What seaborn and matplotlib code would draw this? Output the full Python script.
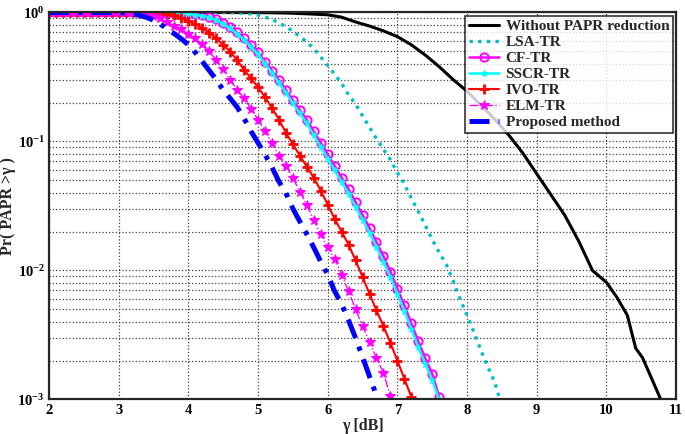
import numpy as np
import pandas as pd
import seaborn as sns
import matplotlib.pyplot as plt
from matplotlib.ticker import FuncFormatter, LogLocator, NullFormatter

# gamma grid used by the curves that carry markers (0.1 dB steps)
gamma = np.round(np.arange(2.0, 7.65, 0.1), 1)

# Without PAPR reduction (no markers, own x points)
wo_x = [2.0, 3.0, 4.0, 5.0, 5.4, 5.7, 6.0, 6.2, 6.4, 6.6, 6.8, 7.0, 7.2, 7.4, 7.6, 7.8, 8.0,
        8.2, 8.4, 8.6, 8.8, 9.0, 9.2, 9.4, 9.6, 9.8, 10.0, 10.15, 10.3, 10.42, 10.52, 10.65, 10.78]
wo_y = [1.0, 1.0, 1.0, 0.998, 0.991, 0.977, 0.96, 0.92, 0.845, 0.785, 0.72, 0.65, 0.562, 0.468,
        0.380, 0.302, 0.245, 0.191, 0.148, 0.112, 0.0813, 0.0562, 0.0389, 0.0269, 0.017, 0.0100,
        0.0081, 0.0062, 0.0045, 0.0025, 0.0021, 0.00145, 0.001]

# LSA-TR (dotted, no markers)
lsa_x = [2.0, 3.0, 4.0, 4.6, 4.7, 4.8, 4.9, 5.0, 5.1, 5.2, 5.3, 5.4, 5.5, 5.6, 5.7, 5.8, 5.9,
         6.0, 6.1, 6.2, 6.3, 6.4, 6.5, 6.6, 6.7, 6.8, 6.9, 7.0, 7.1, 7.2, 7.3, 7.4, 7.5, 7.6,
         7.7, 7.8, 7.9, 8.0, 8.1, 8.2, 8.3, 8.4, 8.47]
lsa_y = [1.0, 1.0, 1.0, 1.0, 0.993, 0.986, 0.975, 0.955, 0.923, 0.881, 0.832, 0.776, 0.716,
         0.653, 0.589, 0.525, 0.452, 0.389, 0.331, 0.282, 0.229, 0.195, 0.158, 0.129, 0.105,
         0.0871, 0.0724, 0.0575, 0.0468, 0.0363, 0.0288, 0.0224, 0.0174, 0.0138, 0.0112,
         0.0083, 0.0060, 0.00447, 0.00331, 0.0024, 0.00178, 0.00135, 0.001]

# CF-TR, 2.0 .. 7.6
cf_y = [1.0, 1.0, 1.0, 1.0, 1.0, 1.0, 1.0, 1.0, 1.0, 1.0, 1.0, 1.0, 1.0, 1.0, 1.0,
        0.998, 0.995, 0.993, 0.989, 0.984,
        0.975, 0.965, 0.955, 0.93, 0.89, 0.835, 0.77, 0.70, 0.631, 0.562,
        0.490, 0.417, 0.355, 0.299, 0.251, 0.209, 0.176, 0.147, 0.120, 0.0977,
        0.0794, 0.0646, 0.0525, 0.0427, 0.0339, 0.0269, 0.0214, 0.0166, 0.0129, 0.0098,
        0.00724, 0.00537, 0.00389, 0.00282, 0.00209, 0.00158, 0.00105]

# SSCR-TR, 2.0 .. 7.6
sscr_y = [1.0, 1.0, 1.0, 1.0, 1.0, 1.0, 1.0, 1.0, 1.0, 1.0, 1.0, 1.0, 1.0, 1.0, 1.0,
          0.998, 0.995, 0.992, 0.987, 0.981,
          0.972, 0.96, 0.945, 0.918, 0.875, 0.82, 0.755, 0.685, 0.615, 0.545,
          0.473, 0.402, 0.341, 0.286, 0.239, 0.198, 0.166, 0.138, 0.112, 0.091,
          0.0738, 0.0598, 0.0485, 0.0393, 0.0312, 0.0247, 0.0196, 0.0152, 0.0117, 0.0089,
          0.00658, 0.00487, 0.00352, 0.00255, 0.00189, 0.00141, 0.001]

# IVO-TR, 2.0 .. 7.2
ivo_y = [1.0, 1.0, 1.0, 1.0, 1.0, 1.0, 1.0, 1.0, 1.0, 1.0, 1.0, 1.0, 1.0,
         0.995, 0.991, 0.984, 0.977, 0.97, 0.95, 0.91,
         0.863, 0.813, 0.755, 0.695, 0.631, 0.562, 0.497, 0.427, 0.359, 0.309,
         0.263, 0.221, 0.182, 0.148, 0.117, 0.0955, 0.0776, 0.0638, 0.0525, 0.0417,
         0.0324, 0.0251, 0.020, 0.0158, 0.012, 0.0089, 0.0066, 0.0049, 0.0037, 0.00275,
         0.002, 0.00145, 0.00105]

# ELM-TR, 2.0 .. 6.9
elm_y = [1.0, 1.0, 1.0, 1.0, 1.0, 1.0, 1.0, 1.0, 1.0, 1.0, 1.0, 1.0, 1.0,
         0.989, 0.973, 0.944, 0.902, 0.841, 0.785, 0.741,
         0.684, 0.631, 0.575, 0.501, 0.427, 0.363, 0.302, 0.251, 0.216, 0.180,
         0.148, 0.120, 0.0977, 0.0776, 0.0646, 0.0525, 0.0407, 0.0324, 0.0245, 0.0191,
         0.0151, 0.0123, 0.0093, 0.0069, 0.0050, 0.0037, 0.0028, 0.0021, 0.0016, 0.00107]

# Proposed method, 2.0 .. 6.7
prop_y = [1.0, 1.0, 1.0, 1.0, 1.0, 1.0, 1.0, 1.0, 1.0, 1.0, 1.0,
          0.989, 0.973, 0.951, 0.916, 0.871, 0.813, 0.741, 0.684, 0.624,
          0.562, 0.490, 0.417, 0.355, 0.302, 0.251, 0.216, 0.185, 0.151, 0.120,
          0.0977, 0.0794, 0.0631, 0.049, 0.0398, 0.0302, 0.024, 0.0191, 0.0151, 0.0117,
          0.0093, 0.0069, 0.0055, 0.0041, 0.0030, 0.00214, 0.00151, 0.00107]

sns.set_theme(style='white')
plt.rcParams['font.family'] = ['Liberation Serif', 'DejaVu Serif']
plt.rcParams['font.weight'] = 'bold'
plt.rcParams['mathtext.fontset'] = 'custom'
plt.rcParams['mathtext.rm'] = 'Liberation Serif:bold'
plt.rcParams['mathtext.bf'] = 'Liberation Serif:bold'

fig = plt.figure(figsize=(6.85, 4.34), dpi=100)
ax = fig.add_axes([0.0715, 0.0795, 0.9155, 0.8917])

sns.lineplot(x=wo_x, y=wo_y, ax=ax, color='black', lw=2.2, label='Without PAPR reduction')
sns.lineplot(x=lsa_x, y=lsa_y, ax=ax, color='#00BFBF', lw=2.4,
             linestyle=(0, (1, 1.6)), label='LSA-TR')
sns.lineplot(x=gamma[:len(cf_y)], y=cf_y, ax=ax, color='#FF00FF', lw=1.8, marker='o', ms=6,
             mfc='none', mec='#FF00FF', mew=1.4, label='CF-TR')
sns.lineplot(x=gamma[:len(sscr_y)], y=sscr_y, ax=ax, color='#00FFFF', lw=1.8, marker='*', ms=5,
             mec='#00FFFF', label='SSCR-TR')
sns.lineplot(x=gamma[:len(ivo_y)], y=ivo_y, ax=ax, color='#FF0000', lw=1.5, marker='+', ms=7,
             mew=2, mec='#FF0000', label='IVO-TR')
sns.lineplot(x=gamma[:len(elm_y)], y=elm_y, ax=ax, color='#FF00FF', lw=1.0, linestyle='-.',
             marker='*', ms=7.5, mec='#FF00FF', label='ELM-TR')
sns.lineplot(x=gamma[:len(prop_y)], y=prop_y, ax=ax, color='#0000FF', lw=3.6,
             linestyle=(0, (4, 1.8, 0.9, 1.8)), label='Proposed method')

ax.set_yscale('log')
ax.set_xlim(2, 11)
ax.set_ylim(1e-3, 1)
ax.set_xticks(range(2, 12))
ax.yaxis.set_major_locator(LogLocator(base=10, numticks=10))
ax.yaxis.set_minor_locator(LogLocator(base=10, subs=np.arange(2, 10), numticks=20))
ax.yaxis.set_major_formatter(FuncFormatter(lambda v, p: r'$\mathbf{10^{%d}}$' % round(np.log10(v))))
ax.yaxis.set_minor_formatter(NullFormatter())

ax.grid(True, which='major', axis='both', linestyle=':', color='0.25', lw=0.9)
ax.grid(True, which='minor', axis='y', linestyle=':', color='0.25', lw=0.9)
ax.tick_params(which='both', direction='in', labelsize=10.5, width=1, colors='black', pad=3)
ax.tick_params(which='major', length=4)
ax.tick_params(which='minor', length=2)
for lab in ax.get_xticklabels():
    lab.set_fontweight('bold')
for s in ax.spines.values():
    s.set_color('0.15')
    s.set_linewidth(1.6)

ax.set_xlabel('γ [dB]', fontsize=11.5, fontweight='bold', labelpad=1)
ax.set_ylabel('Pr( PAPR >γ )', fontsize=11.5, fontweight='bold')
ax.yaxis.set_label_coords(-0.053, 0.5)

leg = ax.legend(loc='upper right', fontsize=11, frameon=True, fancybox=False,
                borderaxespad=0.2, handlelength=2.0, labelspacing=0.15,
                handletextpad=0.4, borderpad=0.25)
leg.get_frame().set_edgecolor('black')
leg.get_frame().set_linewidth(1.2)
for t in leg.get_texts():
    t.set_fontweight('bold')

fig.savefig('out.png', dpi=100)
